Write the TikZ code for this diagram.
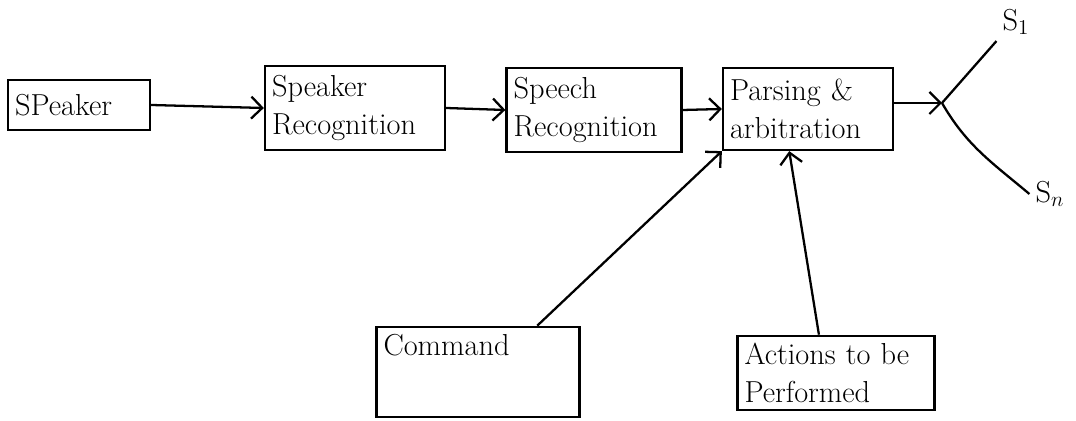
\documentclass[tikz,border=0pt]{standalone}
\usetikzlibrary{arrows.meta}

\tikzset{
  blk/.style={draw, line width=1.3pt, align=left, inner sep=4pt, font=\LARGE},
  flow/.style={line width=1.3pt, ->},
}

\begin{document}
\begin{tikzpicture}[x=0.02cm, y=-0.02cm, >={Straight Barb[length=2.2mm, width=4.4mm]}]
\useasboundingbox (0,0) rectangle (1076,421);

\node [blk, text width=2.56cm, minimum height=1cm] (spk) at (79,105) {SPeaker};
\node [blk, text width=3.32cm, minimum height=1.68cm] (srec) at (355,108) {Speaker\\Recognition};
\node [blk, text width=3.22cm, minimum height=1.68cm] (sprec) at (594,110) {Speech\\Recognition};
\node [blk, text width=3.12cm, minimum height=1.64cm] (parse) at (808,109) {Parsing \&\\arbitration};

\node [blk, text width=3.78cm, text depth=1.1cm] (cmd) at (478,372) {Command};
\node [blk, text width=3.66cm, minimum height=1.46cm] (act) at (836,373) {Actions to be\\Performed};

\coordinate (j) at (942,103);
\node [font=\LARGE] (s1) at (1016,22) {S$_1$};
\node [font=\LARGE] (sn) at (1050,194) {S$_n$};

\draw [flow] (spk.east) -- (srec.west);
\draw [flow] (srec.east) -- (sprec.west);
\draw [flow] (sprec.east) -- (parse.west);
\draw [flow] (parse.east |- j) -- (j);

\draw [line width=1.3pt] (j) -- (s1.south west);
\draw [line width=1.3pt] (j) to[out=-60, in=140] (sn.west);

\draw [flow] (cmd.38) -- (parse.south west);
\draw [flow] (act.114) -- (parse.-114);

\end{tikzpicture}
\end{document}
